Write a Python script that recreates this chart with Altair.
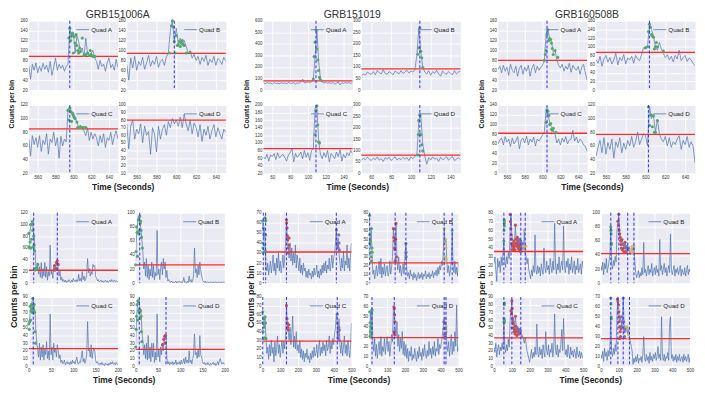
import altair as alt
import pandas as pd

FONT = "Liberation Sans"
BG = "#EAEAF2"
LINE_C = "#4C72B0"
THR_C = "#FF2A2A"
DASH_C = "#2B2BFF"
PT_KEYS = ["g", "r", "p", "y", "c"]
PT_COLORS = ["#55A868", "#C44E52", "#8172B2", "#CCB974", "#64B5CD"]

TITLES = ["GRB151006A", "GRB151019", "GRB160508B"]
QUADS = ["Quad A", "Quad B", "Quad C", "Quad D"]

# ---------------- Group 1: GRB151006A ----------------
G1_T0, G1_STEP = 550, 2
G1_XDOM = [550, 650]
G1_XTICKS = [560, 580, 600, 620, 640]
G1A_C = [70, 42, 72, 60, 75, 55, 68, 58, 74, 62,
         70, 56, 78, 50, 66, 85, 60, 72, 64, 70,
         58, 68, 72, 146, 125, 135, 95, 130, 118, 98,
         105, 88, 125, 92, 88, 95, 100, 85, 78, 62,
         80, 68, 72, 58, 75, 85, 65, 72, 60, 82, 66]
G1B_C = [72, 40, 85, 65, 88, 60, 78, 70, 86, 62,
         75, 90, 68, 80, 72, 88, 66, 78, 82, 70,
         88, 95, 140, 160, 118, 145, 115, 125, 110, 120,
         108, 95, 98, 85, 92, 80, 88, 72, 86, 78,
         90, 70, 82, 76, 88, 70, 84, 80, 72, 86, 78]
G1C_C = [70, 45, 75, 62, 72, 58, 75, 52, 68, 62,
         78, 48, 70, 65, 80, 60, 72, 42, 74, 60,
         70, 66, 112, 115, 110, 102, 100, 95, 87, 90,
         86, 82, 75, 86, 68, 80, 70, 78, 72, 60,
         75, 65, 78, 58, 72, 68, 80, 62, 74, 82, 70]
G1D_C = [75, 42, 72, 80, 55, 68, 62, 75, 50, 72,
         60, 65, 35, 70, 62, 38, 72, 55, 68, 74,
         60, 78, 70, 82, 75, 80, 72, 84, 70, 88,
         75, 66, 80, 62, 76, 70, 58, 74, 52, 68,
         60, 72, 55, 66, 74, 58, 70, 62, 55, 68, 64]
G1_THR = [88, 94, 85, 80]
G1_DASH = [[596], [598], [596], []]
G1_YDOM = [[20, 160], [20, 160], [20, 120], [10, 100]]
G1_YTICKS = [[20, 40, 60, 80, 100, 120, 140, 160],
             [20, 40, 60, 80, 100, 120, 140, 160],
             [20, 40, 60, 80, 100, 120],
             [10, 20, 30, 40, 50, 60, 70, 80, 90, 100]]
G1A_PTS = {"g": [(595, 125), (596, 145), (597, 120), (598, 130), (599, 135), (600, 95),
                 (601, 128), (602, 115), (603, 132), (604, 110), (605, 100), (606, 95),
                 (607, 105), (608, 98), (610, 125), (612, 90), (614, 92), (616, 95),
                 (618, 90), (619, 100), (620, 92), (622, 88), (624, 88)]}
G1B_PTS = {"g": [(593, 95), (595, 150), (596, 160), (597, 148), (598, 118), (599, 95),
                 (600, 130), (601, 110), (602, 112), (603, 118), (604, 108), (605, 115),
                 (606, 120), (607, 112), (608, 110), (610, 95), (614, 97)]}
G1C_PTS = {"g": [(594, 112), (595, 98), (596, 115), (597, 110), (598, 96), (599, 108),
                 (600, 105), (601, 102), (602, 100), (604, 95), (605, 87), (606, 87),
                 (608, 88), (610, 87), (612, 87), (614, 87)]}
G1D_PTS = {}

# ---------------- Group 2: GRB151019 ----------------
G2_T0, G2_STEP = 50, 2
G2_XDOM = [50, 150]
G2_XTICKS = [60, 80, 100, 120, 140]
G2A_C = [60, 55, 65, 58, 62, 52, 66, 58, 60, 55,
         64, 58, 62, 55, 66, 60, 58, 64, 52, 62,
         60, 70, 95, 62, 66, 70, 64, 72, 90, 290,
         520, 250, 100, 70, 62, 68, 60, 64, 58, 66,
         52, 60, 70, 45, 62, 58, 65, 60, 66, 58, 62]
G2B_C = [62, 70, 65, 78, 72, 68, 80, 66, 85, 75,
         70, 88, 72, 68, 80, 74, 66, 82, 76, 70,
         84, 72, 78, 86, 74, 82, 78, 88, 150, 270,
         165, 100, 78, 70, 84, 64, 80, 72, 86, 70,
         60, 82, 74, 68, 80, 72, 66, 84, 70, 78, 82]
G2C_C = [62, 58, 70, 52, 68, 64, 72, 56, 74, 60,
         66, 70, 62, 52, 68, 74, 86, 50, 72, 62,
         68, 76, 58, 80, 62, 74, 54, 80, 85, 190,
         198, 105, 70, 58, 74, 62, 80, 50, 72, 66,
         58, 76, 64, 82, 52, 70, 60, 74, 66, 80, 72]
G2D_C = [58, 65, 60, 70, 62, 56, 66, 60, 72, 58,
         64, 52, 68, 62, 70, 56, 64, 72, 58, 66,
         60, 70, 62, 68, 56, 72, 64, 74, 80, 230,
         255, 125, 75, 40, 68, 58, 72, 62, 66, 52,
         70, 60, 64, 72, 58, 66, 74, 56, 62, 68, 60]
G2_THR = [80, 92, 85, 80]
G2_DASH = [[109], [109], [109], [109]]
G2_YDOM = [[0, 600], [0, 300], [20, 200], [0, 300]]
G2_YTICKS = [[0, 100, 200, 300, 400, 500, 600],
             [0, 50, 100, 150, 200, 250, 300],
             [20, 40, 60, 80, 100, 120, 140, 160, 180, 200],
             [0, 50, 100, 150, 200, 250, 300]]
G2A_PTS = {"g": [(106, 95), (107, 290), (108, 415), (109, 520), (110, 355), (111, 260),
                 (112, 170), (113, 110), (114, 90)]}
G2B_PTS = {"g": [(107, 155), (108, 182), (109, 270), (110, 168), (111, 140), (112, 98)]}
G2C_PTS = {"g": [(108, 122), (109, 185), (110, 198), (111, 147), (112, 102), (113, 100)]}
G2D_PTS = {"g": [(107, 80), (107.5, 170), (108, 232), (109, 255), (109.5, 170), (110, 170),
                 (111, 125), (112, 98)]}

# ---------------- Group 3: GRB160508B ----------------
G3_T0, G3_STEP = 550, 2
G3_XDOM = [550, 650]
G3_XTICKS = [560, 580, 600, 620, 640]
G3A_C = [62, 68, 55, 70, 58, 66, 50, 72, 60, 55,
         68, 48, 64, 70, 52, 66, 58, 70, 48, 64,
         72, 55, 68, 60, 66, 70, 80, 132, 142, 122,
         118, 96, 100, 82, 70, 65, 72, 58, 68, 62,
         74, 56, 70, 64, 60, 68, 52, 66, 72, 55, 40]
G3B_C = [70, 62, 78, 55, 72, 80, 65, 75, 60, 70,
         85, 58, 75, 68, 82, 60, 74, 70, 78, 62,
         80, 72, 68, 82, 98, 95, 100, 150, 140, 125,
         100, 92, 110, 95, 85, 75, 82, 70, 78, 65,
         80, 72, 92, 68, 75, 80, 66, 74, 70, 62, 56]
G3C_C = [60, 68, 72, 58, 75, 64, 70, 55, 72, 60,
         66, 75, 50, 68, 72, 62, 76, 58, 70, 64,
         74, 56, 70, 66, 72, 78, 85, 130, 120, 104,
         95, 88, 80, 62, 70, 58, 72, 64, 75, 60,
         68, 70, 88, 66, 74, 62, 70, 66, 58, 55, 45]
G3D_C = [45, 58, 68, 50, 72, 48, 65, 55, 70, 42,
         66, 58, 72, 50, 64, 55, 68, 60, 74, 58,
         66, 80, 62, 70, 78, 75, 60, 118, 100, 105,
         80, 98, 78, 70, 66, 74, 60, 72, 58, 66,
         62, 70, 75, 55, 68, 62, 74, 58, 66, 60, 35]
G3_THR = [80, 87, 82, 77]
G3_DASH = [[605], [604], [605], [603]]
G3_YDOM = [[20, 160], [0, 160], [0, 140], [20, 120]]
G3_YTICKS = [[20, 40, 60, 80, 100, 120, 140, 160],
             [0, 20, 40, 60, 80, 100, 120, 140, 160],
             [0, 20, 40, 60, 80, 100, 120, 140],
             [20, 40, 60, 80, 100, 120]]
G3A_PTS = {"g": [(602, 80), (603, 92), (604, 100), (605, 132), (606, 142), (607, 120),
                 (608, 124), (609, 122), (610, 115), (611, 104), (612, 92), (614, 100),
                 (617, 86)]}
G3B_PTS = {"g": [(600, 98), (602, 100), (603, 135), (604, 152), (605, 145), (606, 128),
                 (607, 125), (608, 122), (609, 95), (610, 100), (611, 110), (612, 100),
                 (618, 90)]}
G3C_PTS = {"g": [(604, 104), (605, 130), (606, 127), (607, 118), (608, 100), (609, 102),
                 (610, 90), (611, 88), (612, 92), (615, 84)]}
G3D_PTS = {"g": [(603, 117), (604, 90), (605, 105), (606, 105), (607, 88), (608, 104),
                 (609, 80), (610, 80), (612, 97)]}

# ---------------- Group 4 (bottom left) ----------------
G4_T0, G4_STEP = 0, 2
G4_XDOM = [0, 200]
G4_XTICKS = [0, 50, 100, 150, 200]
G4A_C = [60, 85, 95, 100, 105, 90, 80, 55, 30, 22,
         32, 15, 28, 10, 35, 8, 25, 12, 35, 10,
         28, 5, 20, 12, 65, 15, 22, 8, 30, 25,
         20, 35, 38, 25, 12, 22, 5, 10, 3, 6,
         2, 5, 1, 4, 2, 6, 3, 1, 5, 2,
         8, 3, 5, 2, 6, 3, 15, 4, 8, 3,
         20, 6, 12, 4, 8, 15, 42, 18, 25, 12,
         20, 15, 32, 28, 30, 12, 8, 4, 6, 2,
         3, 5, 2, 4, 1, 3, 5, 2, 4, 1,
         3, 5, 2, 6, 3, 2, 5, 3, 4, 2, 3]
G4B_C = [30, 70, 85, 95, 90, 85, 75, 60, 45, 20,
         30, 10, 35, 8, 25, 5, 20, 10, 30, 8,
         25, 5, 15, 10, 75, 12, 20, 5, 22, 30,
         12, 35, 20, 30, 8, 18, 3, 5, 2, 1,
         3, 1, 2, 0, 1, 3, 0, 2, 1, 3,
         1, 2, 0, 3, 8, 1, 2, 0, 3, 1,
         10, 2, 5, 1, 4, 12, 50, 15, 20, 8,
         25, 12, 30, 18, 10, 5, 2, 1, 3, 0,
         1, 2, 0, 1, 2, 0, 1, 2, 0, 1,
         2, 0, 1, 2, 0, 1, 2, 0, 1, 2, 1]
G4C_C = [55, 60, 78, 80, 85, 88, 78, 70, 45, 30,
         22, 12, 30, 8, 25, 12, 28, 8, 22, 15,
         32, 10, 20, 8, 68, 15, 25, 8, 30, 18,
         22, 12, 28, 20, 10, 15, 5, 8, 3, 5,
         8, 2, 4, 6, 3, 5, 2, 6, 3, 8,
         4, 6, 3, 8, 12, 4, 3, 6, 5, 12,
         20, 6, 10, 4, 8, 15, 58, 20, 22, 12,
         28, 10, 18, 24, 20, 8, 4, 6, 3, 2,
         4, 2, 5, 2, 3, 1, 4, 2, 3, 1,
         4, 2, 5, 3, 6, 3, 4, 2, 5, 3, 2]
G4D_C = [25, 65, 80, 85, 84, 72, 70, 45, 32, 15,
         28, 10, 30, 8, 40, 10, 25, 6, 30, 12,
         30, 5, 18, 8, 68, 12, 22, 6, 25, 15,
         30, 20, 35, 42, 40, 10, 3, 6, 2, 5,
         3, 6, 2, 5, 3, 8, 2, 5, 3, 6,
         2, 8, 3, 5, 10, 3, 12, 5, 8, 4,
         20, 5, 8, 3, 10, 15, 42, 15, 18, 10,
         22, 12, 40, 15, 12, 6, 3, 5, 2, 4,
         2, 5, 3, 1, 4, 2, 3, 5, 2, 4,
         1, 3, 6, 2, 8, 10, 4, 3, 5, 3, 3]
G4_THR = [22, 26, 23, 22]
G4_DASH = [[11, 64], [9], [10], [8, 68]]
G4_YDOM = [[0, 120], [0, 100], [0, 90], [0, 90]]
G4_YTICKS = [[0, 20, 40, 60, 80, 100, 120],
             [0, 20, 40, 60, 80, 100],
             [0, 10, 20, 30, 40, 50, 60, 70, 80, 90],
             [0, 10, 20, 30, 40, 50, 60, 70, 80, 90]]
G4A_PTS = {"g": [(0, 85), (1, 62), (2, 60), (3, 70), (4, 100), (5, 60), (6, 75), (7, 100),
                 (8, 105), (9, 90), (10, 62), (11, 80), (12, 65), (13, 55), (14, 22),
                 (15, 25), (16, 25), (17, 26), (20, 32)],
           "r": [(57, 22), (58, 30), (60, 25), (62, 35), (64, 38), (66, 32)]}
G4B_PTS = {"g": [(0, 26), (1, 45), (2, 80), (3, 72), (4, 38), (5, 72), (6, 90), (7, 70),
                 (8, 75), (9, 95), (10, 85), (11, 88), (12, 75), (13, 65), (15, 50)]}
G4C_PTS = {"g": [(0, 55), (1, 48), (2, 58), (3, 78), (4, 60), (5, 72), (6, 80), (7, 75),
                 (8, 70), (9, 88), (10, 78), (11, 72), (12, 80), (13, 70), (14, 45),
                 (15, 30)]}
G4D_PTS = {"g": [(0, 25), (1, 48), (2, 65), (3, 80), (4, 60), (5, 85), (6, 84), (7, 72),
                 (8, 70), (9, 74), (10, 62), (11, 72), (12, 65), (13, 45), (14, 32)],
           "r": [(60, 28), (63, 35), (65, 39), (66, 30), (67, 40)]}

# ---------------- Group 5 (bottom middle) ----------------
G5_T0, G5_STEP = 0, 5
G5_XDOM = [0, 500]
G5_XTICKS = [0, 100, 200, 300, 400, 500]
G5A_C = [62, 45, 55, 38, 18, 12, 20, 8, 15, 22,
         10, 18, 28, 12, 20, 8, 25, 15, 30, 12,
         22, 10, 18, 28, 15, 25, 40, 62, 45, 35,
         25, 40, 22, 35, 18, 30, 20, 38, 15, 28,
         20, 12, 25, 10, 18, 8, 20, 12, 15, 6,
         12, 5, 14, 8, 10, 4, 12, 6, 15, 8,
         10, 18, 6, 12, 5, 14, 8, 18, 10, 20,
         12, 22, 10, 18, 14, 25, 12, 20, 28, 15,
         25, 30, 40, 55, 35, 45, 30, 20, 12, 25,
         15, 32, 12, 22, 18, 38, 15, 25, 12, 30, 40]
G5B_C = [77, 40, 60, 35, 10, 15, 5, 12, 20, 8,
         15, 25, 10, 28, 6, 18, 10, 22, 8, 15,
         20, 8, 12, 25, 10, 18, 30, 62, 50, 40,
         68, 25, 15, 30, 12, 20, 8, 15, 22, 10,
         30, 45, 15, 8, 12, 5, 15, 8, 10, 4,
         12, 6, 10, 3, 8, 12, 5, 10, 6, 12,
         4, 10, 8, 14, 5, 10, 7, 12, 5, 10,
         8, 14, 6, 12, 9, 15, 8, 18, 10, 20,
         15, 25, 20, 35, 62, 45, 50, 25, 12, 20,
         8, 15, 25, 60, 20, 12, 25, 10, 18, 8, 22]
G5C_C = [63, 50, 45, 57, 32, 15, 22, 8, 25, 12,
         30, 15, 22, 5, 28, 12, 20, 35, 15, 25,
         10, 22, 30, 15, 28, 20, 35, 70, 50, 40,
         30, 45, 25, 38, 58, 22, 35, 20, 40, 18,
         25, 15, 30, 10, 20, 8, 18, 5, 15, 10,
         20, 8, 12, 4, 15, 8, 18, 10, 22, 12,
         15, 25, 10, 20, 30, 12, 22, 15, 28, 18,
         25, 12, 30, 18, 22, 35, 15, 28, 20, 32,
         25, 38, 45, 60, 50, 40, 55, 25, 15, 28,
         12, 22, 35, 15, 25, 12, 30, 18, 10, 25, 50]
G5D_C = [30, 55, 40, 57, 25, 15, 28, 10, 22, 8,
         18, 25, 12, 30, 10, 20, 15, 28, 12, 22,
         30, 15, 25, 10, 20, 32, 25, 58, 60, 40,
         30, 45, 20, 32, 15, 28, 18, 35, 12, 25,
         10, 22, 8, 18, 5, 15, 10, 20, 6, 12,
         8, 18, 10, 5, 15, 8, 20, 10, 14, 6,
         18, 10, 22, 12, 8, 16, 10, 25, 12, 18,
         8, 20, 12, 25, 10, 18, 15, 28, 12, 22,
         18, 25, 32, 40, 48, 42, 45, 22, 15, 25,
         10, 20, 32, 12, 25, 15, 35, 20, 62, 15, 20]
G5_THR = [31, 23, 29, 29]
G5_DASH = [[5, 18, 135, 415], [2, 145, 205, 420, 465], [2, 135, 420], [15, 140, 420, 430]]
G5_YDOM = [[0, 70], [0, 80], [0, 80], [0, 70]]
G5_YTICKS = [[0, 10, 20, 30, 40, 50, 60, 70],
             [0, 10, 20, 30, 40, 50, 60, 70, 80],
             [0, 10, 20, 30, 40, 50, 60, 70, 80],
             [0, 10, 20, 30, 40, 50, 60, 70]]
G5A_PTS = {"g": [(2, 62), (2, 40), (3, 35), (4, 30), (5, 55), (10, 48), (12, 38), (15, 65),
                 (18, 62), (18, 48), (16, 32)],
           "r": [(135, 63), (136, 60), (138, 55), (140, 47), (142, 43), (144, 35), (145, 30),
                 (148, 38), (150, 45)],
           "p": [(415, 53), (420, 40), (422, 37), (425, 35), (428, 48), (430, 40), (432, 33)]}
G5B_PTS = {"g": [(1, 77), (2, 55), (3, 45), (5, 48), (8, 35), (10, 30), (12, 62), (15, 40),
                 (12, 25), (16, 35)],
           "r": [(135, 62), (138, 52), (140, 48), (142, 40), (144, 38), (145, 25), (148, 50),
                 (150, 68), (152, 30)],
           "p": [(205, 45), (206, 35), (207, 30)],
           "y": [(420, 62), (422, 40), (424, 30), (426, 25), (428, 50), (430, 40), (432, 28),
                 (427, 45)],
           "c": [(465, 60)]}
G5C_PTS = {"g": [(2, 63), (3, 50), (4, 40), (5, 32), (8, 55), (10, 45), (12, 33), (15, 57),
                 (18, 50), (20, 32)],
           "r": [(135, 70), (138, 55), (140, 50), (142, 45), (145, 42), (148, 48)],
           "p": [(420, 60), (422, 50), (424, 40), (426, 36), (428, 45), (430, 30), (432, 42),
                 (425, 33)]}
G5D_PTS = {"g": [(2, 55), (4, 44), (6, 35), (8, 40), (10, 32), (12, 38), (14, 56), (15, 57),
                 (5, 30)],
           "r": [(138, 60), (140, 58), (142, 52), (144, 45), (140, 35), (142, 32)],
           "p": [(418, 45), (420, 38), (422, 32), (425, 30)],
           "y": [(428, 48), (430, 40), (432, 35), (426, 28)]}

# ---------------- Group 6 (bottom right) ----------------
G6_T0, G6_STEP = 0, 5
G6_XDOM = [0, 500]
G6_XTICKS = [0, 100, 200, 300, 400, 500]
G6A_C = [22, 30, 15, 2, 28, 18, 25, 12, 30, 20,
         35, 48, 25, 18, 30, 22, 35, 28, 60, 78,
         55, 48, 42, 50, 66, 45, 52, 40, 48, 38,
         45, 35, 42, 38, 60, 35, 30, 22, 28, 15,
         10, 5, 15, 8, 20, 12, 55, 15, 10, 20,
         12, 18, 8, 22, 15, 10, 40, 18, 12, 25,
         15, 20, 10, 28, 18, 12, 25, 15, 68, 20,
         10, 22, 15, 30, 12, 20, 25, 15, 65, 20,
         12, 25, 18, 28, 10, 22, 15, 30, 12, 18,
         25, 10, 20, 15, 28, 12, 18, 22, 10, 25, 18]
G6B_C = [25, 18, 30, 12, 28, 20, 35, 15, 22, 30,
         40, 80, 28, 20, 32, 25, 38, 30, 75, 88,
         98, 70, 60, 55, 62, 55, 50, 58, 48, 52,
         47, 50, 45, 40, 48, 52, 45, 53, 30, 15,
         8, 12, 18, 8, 15, 10, 22, 12, 58, 15,
         20, 10, 18, 25, 12, 20, 15, 28, 10, 18,
         22, 12, 25, 15, 20, 10, 62, 18, 25, 12,
         20, 28, 15, 22, 10, 18, 25, 15, 70, 20,
         12, 18, 25, 10, 20, 15, 22, 12, 18, 25,
         10, 20, 15, 12, 22, 10, 18, 25, 12, 20, 15]
G6C_C = [25, 18, 30, 12, 22, 28, 15, 25, 20, 30,
         22, 62, 25, 18, 28, 20, 35, 25, 60, 72,
         85, 60, 55, 48, 65, 50, 52, 45, 48, 42,
         45, 38, 40, 35, 30, 38, 28, 20, 15, 10,
         5, 15, 22, 10, 18, 12, 25, 15, 55, 18,
         12, 25, 15, 22, 10, 28, 18, 12, 45, 20,
         15, 28, 12, 22, 18, 30, 12, 25, 68, 20,
         15, 28, 12, 22, 18, 30, 48, 20, 62, 25,
         15, 22, 12, 28, 18, 10, 25, 15, 20, 12,
         22, 18, 10, 25, 15, 12, 20, 10, 18, 12, 10]
G6D_C = [12, 8, 15, 5, 18, 10, 14, 6, 16, 10,
         20, 48, 15, 10, 18, 12, 22, 15, 55, 68,
         60, 45, 50, 40, 45, 69, 42, 38, 35, 40,
         32, 38, 30, 25, 20, 15, 2, 8, 4, 10,
         5, 12, 3, 8, 6, 10, 4, 12, 30, 8,
         5, 12, 6, 10, 3, 14, 6, 10, 5, 12,
         8, 14, 6, 10, 20, 8, 12, 6, 50, 10,
         6, 12, 5, 10, 8, 14, 6, 42, 50, 8,
         12, 5, 10, 6, 12, 4, 10, 6, 12, 5,
         8, 10, 4, 12, 6, 10, 5, 8, 12, 4, 10]
G6_THR = [36, 42, 37, 28]
G6_DASH = [[55, 95, 150, 175], [55, 100, 150, 185], [55, 100, 150], [55, 95, 125, 160]]
G6_YDOM = [[0, 80], [0, 100], [0, 90], [0, 70]]
G6_YTICKS = [[0, 10, 20, 30, 40, 50, 60, 70, 80],
             [0, 20, 40, 60, 80, 100],
             [0, 10, 20, 30, 40, 50, 60, 70, 80, 90],
             [0, 10, 20, 30, 40, 50, 60, 70]]
G6A_PTS = {"g": [(55, 48), (56, 60), (57, 68), (57, 72), (58, 70), (58, 65)],
           "r": [(90, 78), (92, 70), (94, 62), (96, 55), (98, 50), (100, 45), (102, 42),
                 (105, 38), (108, 45), (110, 40), (112, 48), (115, 42), (118, 38), (120, 66),
                 (122, 45), (125, 50), (128, 42), (130, 52), (132, 45), (135, 40), (138, 48),
                 (140, 38), (142, 44), (145, 42), (148, 36)],
           "p": [(140, 50), (145, 46), (150, 48), (152, 40), (155, 42), (160, 45)],
           "y": [(165, 42), (170, 60), (172, 40), (175, 38), (178, 42)]}
G6B_PTS = {"g": [(55, 80), (56, 75), (57, 70), (58, 55), (58, 57)],
           "r": [(95, 88), (98, 82), (100, 98), (102, 75), (105, 70), (108, 65), (110, 60),
                 (112, 55), (115, 50), (118, 62), (120, 48), (125, 55), (128, 45), (130, 50),
                 (135, 58), (140, 45)],
           "p": [(130, 55), (140, 50), (145, 52), (150, 47), (155, 50)],
           "y": [(170, 48), (175, 52), (180, 45), (185, 53), (178, 43)]}
G6C_PTS = {"g": [(55, 62), (56, 58), (57, 80), (58, 82), (58, 60), (57, 57)],
           "r": [(95, 72), (98, 68), (100, 85), (102, 75), (104, 62), (106, 58), (108, 55),
                 (110, 50), (112, 45), (115, 48), (118, 42), (120, 65), (122, 52), (125, 45),
                 (128, 40), (130, 48), (135, 42), (140, 45)],
           "p": [(100, 50), (105, 60), (130, 50), (140, 48), (145, 42), (148, 46)]}
G6D_PTS = {"g": [(55, 69), (56, 63), (57, 50), (58, 48)],
           "r": [(92, 68), (95, 66), (98, 62), (100, 55), (102, 50), (100, 45), (105, 40),
                 (108, 35), (110, 30), (112, 38), (105, 28)],
           "p": [(115, 50), (118, 45), (120, 40), (125, 69), (128, 45), (130, 35), (132, 30),
                 (135, 38)],
           "y": [(145, 40), (150, 38), (155, 32), (152, 28)]}

GROUPS = [
    dict(t0=G1_T0, step=G1_STEP, xdom=G1_XDOM, xticks=G1_XTICKS,
         counts=[G1A_C, G1B_C, G1C_C, G1D_C], thr=G1_THR, dash=G1_DASH,
         pts=[G1A_PTS, G1B_PTS, G1C_PTS, G1D_PTS], ydom=G1_YDOM, yticks=G1_YTICKS),
    dict(t0=G2_T0, step=G2_STEP, xdom=G2_XDOM, xticks=G2_XTICKS,
         counts=[G2A_C, G2B_C, G2C_C, G2D_C], thr=G2_THR, dash=G2_DASH,
         pts=[G2A_PTS, G2B_PTS, G2C_PTS, G2D_PTS], ydom=G2_YDOM, yticks=G2_YTICKS),
    dict(t0=G3_T0, step=G3_STEP, xdom=G3_XDOM, xticks=G3_XTICKS,
         counts=[G3A_C, G3B_C, G3C_C, G3D_C], thr=G3_THR, dash=G3_DASH,
         pts=[G3A_PTS, G3B_PTS, G3C_PTS, G3D_PTS], ydom=G3_YDOM, yticks=G3_YTICKS),
    dict(t0=G4_T0, step=G4_STEP, xdom=G4_XDOM, xticks=G4_XTICKS,
         counts=[G4A_C, G4B_C, G4C_C, G4D_C], thr=G4_THR, dash=G4_DASH,
         pts=[G4A_PTS, G4B_PTS, G4C_PTS, G4D_PTS], ydom=G4_YDOM, yticks=G4_YTICKS),
    dict(t0=G5_T0, step=G5_STEP, xdom=G5_XDOM, xticks=G5_XTICKS,
         counts=[G5A_C, G5B_C, G5C_C, G5D_C], thr=G5_THR, dash=G5_DASH,
         pts=[G5A_PTS, G5B_PTS, G5C_PTS, G5D_PTS], ydom=G5_YDOM, yticks=G5_YTICKS),
    dict(t0=G6_T0, step=G6_STEP, xdom=G6_XDOM, xticks=G6_XTICKS,
         counts=[G6A_C, G6B_C, G6C_C, G6D_C], thr=G6_THR, dash=G6_DASH,
         pts=[G6A_PTS, G6B_PTS, G6C_PTS, G6D_PTS], ydom=G6_YDOM, yticks=G6_YTICKS),
]


def make_panel(g, i, w, h, show_x):
    counts = g["counts"][i]
    t = [g["t0"] + g["step"] * k for k in range(len(counts))]
    xs = alt.Scale(domain=g["xdom"], nice=False, zero=False)
    ys = alt.Scale(domain=g["ydom"][i], nice=False, zero=False)
    xax = alt.Axis(values=g["xticks"], labels=show_x, labelFlush=False, title=None)
    yax = alt.Axis(values=g["yticks"][i], title=None)
    X = alt.X("t:Q", scale=xs, axis=xax)
    Y = alt.Y("c:Q", scale=ys, axis=yax)
    layers = [
        alt.Chart(pd.DataFrame({"t": t, "c": counts}))
        .mark_line(color=LINE_C, strokeWidth=0.7, clip=True).encode(x=X, y=Y),
        alt.Chart(pd.DataFrame({"c": [g["thr"][i]]}))
        .mark_rule(color=THR_C, strokeWidth=1.3).encode(y=Y),
    ]
    rows = []
    for k, lst in g["pts"][i].items():
        for (tt, cc) in lst:
            rows.append({"t": tt, "c": cc, "k": k})
    if rows:
        layers.append(
            alt.Chart(pd.DataFrame(rows)).mark_circle(size=10, opacity=1).encode(
                x=X, y=Y,
                color=alt.Color("k:N", scale=alt.Scale(domain=PT_KEYS, range=PT_COLORS), legend=None),
            )
        )
    if g["dash"][i]:
        layers.append(
            alt.Chart(pd.DataFrame({"t": g["dash"][i]}))
            .mark_rule(color=DASH_C, strokeWidth=1.1, strokeDash=[3, 2], opacity=0.9).encode(x=X)
        )
    one = pd.DataFrame({"a": [0]})
    layers.append(
        alt.Chart(one).mark_rule(color=LINE_C, strokeWidth=0.8)
        .encode(x=alt.value(w - 42), x2=alt.value(w - 29), y=alt.value(9))
    )
    layers.append(
        alt.Chart(one).mark_text(text=QUADS[i], align="left", baseline="middle",
                                 fontSize=6.3, font=FONT, color="#222222")
        .encode(x=alt.value(w - 27), y=alt.value(9))
    )
    return alt.layer(*layers).properties(width=w, height=h)


def make_group(gi, top):
    g = GROUPS[gi]
    wl, wr = (90, 100) if top else (90, 90)
    h1, h2 = (70, 69) if top else (71, 70)
    sx, sy = (9, 15) if top else (18, 14)
    panels = [
        make_panel(g, 0, wl, h1, False),
        make_panel(g, 1, wr, h1, False),
        make_panel(g, 2, wl, h2, True),
        make_panel(g, 3, wr, h2, True),
    ]
    grid = alt.concat(*panels, columns=2, spacing={"row": sy, "column": sx}, bounds="flush")
    grid = grid.properties(title=alt.TitleParams(
        text="Time (Seconds)", orient="bottom", fontSize=8.5, fontWeight="bold", font=FONT,
        color="#222222", anchor="middle", offset=3))
    yg = alt.hconcat(grid, title=alt.TitleParams(
        text="Counts per bin", orient="left", fontSize=7 if top else 9, fontWeight="bold",
        font=FONT, color="#222222", anchor="middle", offset=4 if top else 0))
    if top:
        yg = alt.vconcat(yg, title=alt.TitleParams(
            text=TITLES[gi], fontSize=10.5, fontWeight="normal", font=FONT, color="#333333",
            anchor="middle", offset=-3))
    return yg


top_row = alt.hconcat(make_group(0, True), make_group(1, True), make_group(2, True), spacing=15)
bot_row = alt.hconcat(
    make_group(3, False),
    alt.hconcat(make_group(4, False), make_group(5, False), spacing=14),
    spacing=16,
)

chart = (
    alt.vconcat(top_row, bot_row, spacing=18)
    .properties(padding=0, background="white")
    .configure_view(fill=BG, stroke="transparent")
    .configure_axis(domain=False, ticks=False, grid=True, gridColor="white", gridWidth=0.9,
                    labelFont=FONT, labelFontSize=4.5, labelColor="#333333", labelPadding=1.5)
)

chart.save("out.html", embed_options={"renderer": "svg", "actions": False})
